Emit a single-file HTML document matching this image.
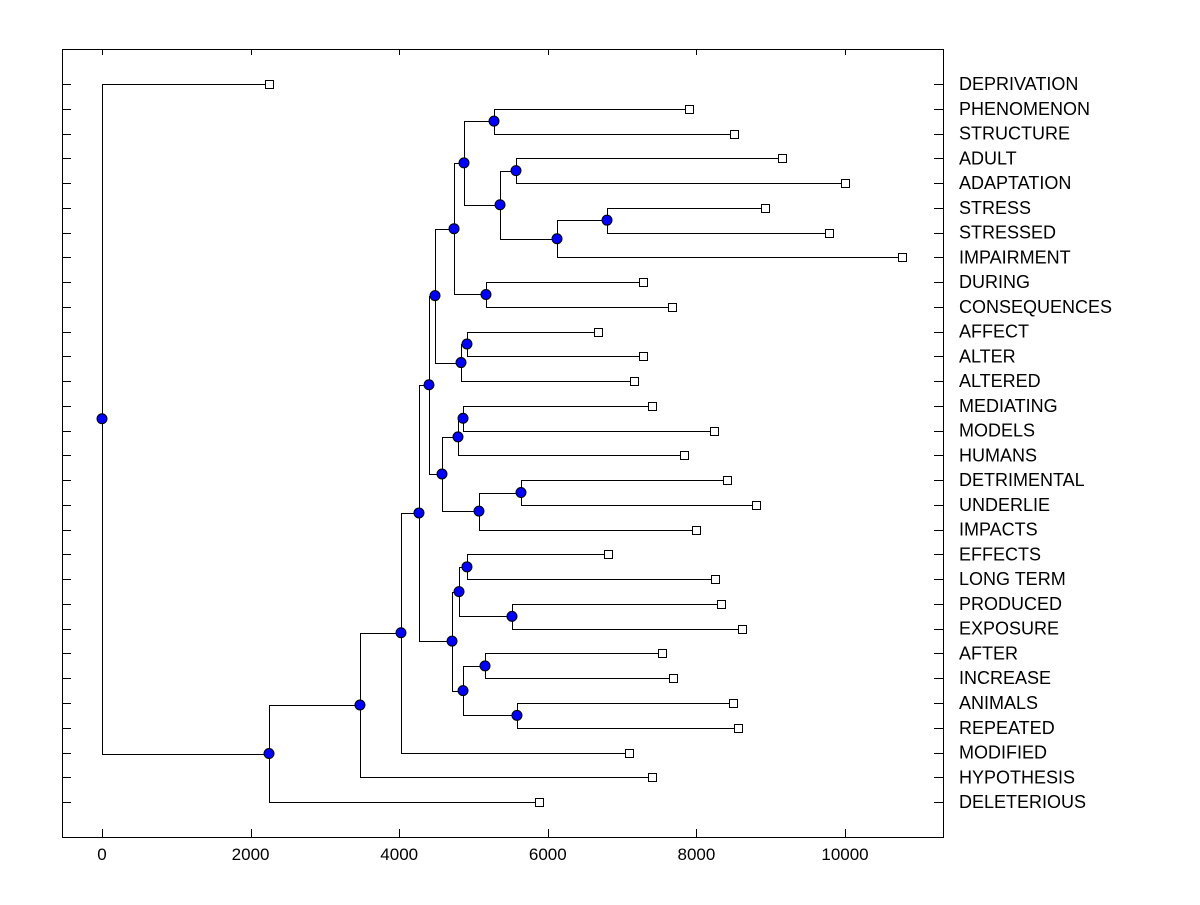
<!DOCTYPE html>
<html><head><meta charset="utf-8"><style>
html,body{margin:0;padding:0;background:#fff;}
svg text{font-family:"Liberation Sans",Arial,sans-serif;}
</style></head><body>
<svg id="chart" width="1200" height="900" xmlns="http://www.w3.org/2000/svg">
<rect x="62.5" y="49.5" width="881" height="788" fill="none" stroke="#000" stroke-width="1"/>
<g id="marks"></g>
</svg>
<script>
const labels = ["DEPRIVATION","PHENOMENON","STRUCTURE","ADULT","ADAPTATION","STRESS","STRESSED","IMPAIRMENT","DURING","CONSEQUENCES","AFFECT","ALTER","ALTERED","MEDIATING","MODELS","HUMANS","DETRIMENTAL","UNDERLIE","IMPACTS","EFFECTS","LONG TERM","PRODUCED","EXPOSURE","AFTER","INCREASE","ANIMALS","REPEATED","MODIFIED","HYPOTHESIS","DELETERIOUS"];
const leafValues = [2248,7900,8506,9152,10000,8923,9785,10767,7281,7672,6676,7281,7160,7402,8237,7833,8412,8802,7995,6810,8250,8331,8614,7537,7685,8493,8560,7093,7402,5882];
const nodeIds = ["root","A","B","C","D","E","F","G","H","I","J","K","L","M","N","O","P","Q","R","S","T","U","V","W","X","Y","Z","AA","BB"];
const nodeHeights = [0,2248,3472,4024,4266,4401,4711,4482,4576,4738,4832,4872,5168,5276,5357,5572,6124,6797,4912,4791,5074,4859,5639,4805,4859,4912,5518,5155,5585];
const nodeChildren = [["L0","A"],["B","L29"],["C","L28"],["D","L27"],["E","F"],["G","H"],["W","X"],["I","J"],["S","T"],["K","L"],["R","L12"],["M","N"],["L8","L9"],["L1","L2"],["O","P"],["L3","L4"],["Q","L7"],["L5","L6"],["L10","L11"],["U","L15"],["V","L18"],["L13","L14"],["L16","L17"],["Y","Z"],["AA","BB"],["L19","L20"],["L21","L22"],["L23","L24"],["L25","L26"]];
const xTicks = [0,2000,4000,6000,8000,10000];

const X = v => 102 + v*0.0743;
const Y = i => 84 + i*24.76;
const NS = "http://www.w3.org/2000/svg";
const g = document.getElementById('marks');
function mk(tag, attrs){const e=document.createElementNS(NS,tag);for(const k in attrs)e.setAttribute(k,attrs[k]);g.appendChild(e);return e;}

labels.forEach((t,i)=>{
  const y=Math.round(Y(i))+0.5;
  const l=mk('line',{x1:62,x2:71,y1:y,y2:y,stroke:'#000'});
  
  
  const r=mk('line',{x1:934,x2:943,y1:y,y2:y,stroke:'#000'});
  
  
  const tx=mk('text',{x:959,y:Y(i)+6,'font-size':18,fill:'#000'});
  tx.textContent=t;
  
  
});
xTicks.forEach(v=>{
  const x=Math.round(X(v))+0.5;
  const a=mk('line',{x1:x,x2:x,y1:49,y2:55,stroke:'#000'});
  
  
  const b=mk('line',{x1:x,x2:x,y1:829,y2:837,stroke:'#000'});
  
  
  const t=mk('text',{x:X(v),y:860,'font-size':17,'text-anchor':'middle',fill:'#000'});
  t.textContent=v;
  
  
});

const pos={};
labels.forEach((t,i)=>{pos['L'+i]={x:X(leafValues[i]),y:Y(i)};});
function place(id){
  if(pos[id])return pos[id];
  const k=nodeIds.indexOf(id);
  const a=place(nodeChildren[k][0]), b=place(nodeChildren[k][1]);
  pos[id]={x:X(nodeHeights[k]),y:(a.y+b.y)/2};
  return pos[id];
}
nodeIds.forEach(place);
nodeIds.forEach((id,k)=>{
  const p=pos[id];
  nodeChildren[k].forEach(c=>{
    const q=pos[c];
    const px=Math.round(p.x)+0.5, qy=Math.round(q.y)+0.5;
    const path=mk('path',{d:`M${px},${p.y} L${px},${qy} L${q.x},${qy}`,fill:'none',stroke:'#000','stroke-width':1});
    
    
  });
});
labels.forEach((t,i)=>{
  const p=pos['L'+i];
  const r=mk('rect',{x:Math.round(p.x)-4+0.5,y:Math.round(p.y)-4+0.5,width:8,height:8,fill:'#fff',stroke:'#000'});
  
  
});
nodeIds.forEach(id=>{
  const p=pos[id];
  const c=mk('circle',{cx:p.x,cy:p.y,r:5,fill:'#0000ff',stroke:'#000','stroke-width':1});
  
  
});
</script>
</body></html>
